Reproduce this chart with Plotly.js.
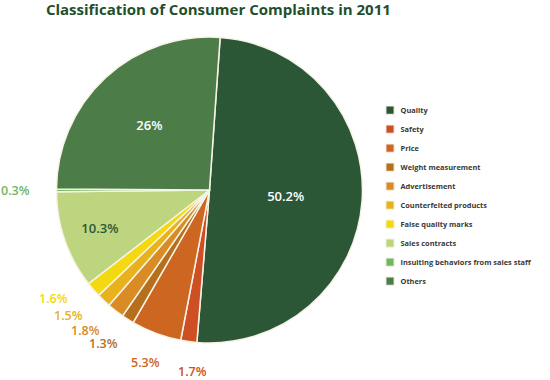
<!DOCTYPE html>
<html>
<head>
<meta charset="utf-8">
<script src="https://cdn.plot.ly/plotly-3.0.1.min.js"></script>
<style>html,body{margin:0;padding:0;background:#fff;}#chart{width:550px;height:380px;}
#chart path.legendpie{transform:translate(29.5px,0px) scale(0.68);}</style>
</head>
<body>
<div id="chart"></div>
<script>
const categories = ["Quality","Safety","Price","Weight measurement","Advertisement","Counterfeited products","False quality marks","Sales contracts","Insulting behaviors from sales staff","Others"];
const shares = [50.2, 1.7, 5.3, 1.3, 1.8, 1.5, 1.6, 10.3, 0.3, 26];
const labelsText = ["50.2%","1.7%","5.3%","1.3%","1.8%","1.5%","1.6%","10.3%","0.3%","26%"];
const sliceColors = ["#2b5737","#cf4f24","#cd6620","#b56f1d","#d98b25","#e7b21c","#f4d810","#bdd57f","#72b65f","#4c7c48"];
const labelInside = [true,false,false,false,false,false,false,true,false,true];
const insideColors = ["#ffffff","#ffffff","#ffffff","#ffffff","#ffffff","#ffffff","#ffffff","#2b5737","#ffffff","#ffffff"];

const W = 550, H = 380;
const rotation = 4;
const pieDomain = {x: [0.1027, 0.659], y: [0.0974, 0.9026]};
const labelFont = "Open Sans, sans-serif";

// pie geometry in pixels (margins are zero, so paper = pixels)
const cx = (pieDomain.x[0] + pieDomain.x[1]) / 2 * W;
const cy = (1 - (pieDomain.y[0] + pieDomain.y[1]) / 2) * H;
const R = Math.min((pieDomain.x[1] - pieDomain.x[0]) * W, (pieDomain.y[1] - pieDomain.y[0]) * H) / 2;
const total = shares.reduce((a, b) => a + b, 0);
let cum = 0;
const midAngles = shares.map(v => { const m = rotation + (cum + v / 2) / total * 360; cum += v; return m; });

// outside labels: spread the crowded small-slice labels apart around the largest of them
const outsideIdx = shares.map((v, i) => i).filter(i => !labelInside[i]);
const crowd = outsideIdx.filter(i => midAngles[i] < 240);
const pivot = crowd.reduce((a, b) => shares[b] > shares[a] ? b : a, crowd[0]);
const annotations = outsideIdx.map(i => {
  let a = midAngles[i];
  if (crowd.includes(i)) a = midAngles[pivot] + 1.2 * (a - midAngles[pivot]);
  const t = a * Math.PI / 180;
  const rl = R * (1.19 + 0.08 * Math.sin(t) * Math.sin(t));
  const px = cx + rl * Math.sin(t), py = cy - rl * Math.cos(t);
  return {x: px / W, y: 1 - py / H, xref: "paper", yref: "paper", text: labelsText[i], showarrow: false,
          xanchor: "center", yanchor: "middle",
          font: {family: labelFont, size: 12.5, color: sliceColors[i], weight: 600}};
});

const trace = {
  type: "pie",
  labels: categories,
  values: shares,
  text: labelsText,
  textinfo: "text",
  hoverinfo: "label+text",
  textposition: labelInside.map(b => b ? "inside" : "none"),
  insidetextorientation: "horizontal",
  sort: false,
  direction: "clockwise",
  rotation: rotation,
  marker: {colors: sliceColors, line: {color: "#f7f3e6", width: 1.5}},
  insidetextfont: {family: labelFont, size: 13, color: insideColors, weight: 600},
  domain: pieDomain
};

const layout = {
  width: W, height: H,
  margin: {l: 0, r: 0, t: 0, b: 0},
  paper_bgcolor: "#ffffff",
  showlegend: true,
  annotations: annotations,
  title: {text: "Classification of Consumer Complaints in 2011", x: 0.397, xanchor: "center", y: 0.975, yanchor: "middle",
          font: {family: "Open Sans, sans-serif", size: 15, color: "#1f4f2c", weight: 700}},
  legend: {x: 0.6555, y: 0.7484, xanchor: "left", yanchor: "top", font: {family: "Open Sans, sans-serif", size: 7.4, color: "#383838", weight: 700},
           itemwidth: 30, traceorder: "normal", bgcolor: "rgba(0,0,0,0)"}
};

Plotly.newPlot("chart", [trace], layout, {displayModeBar: false, staticPlot: true});
</script>
</body>
</html>
